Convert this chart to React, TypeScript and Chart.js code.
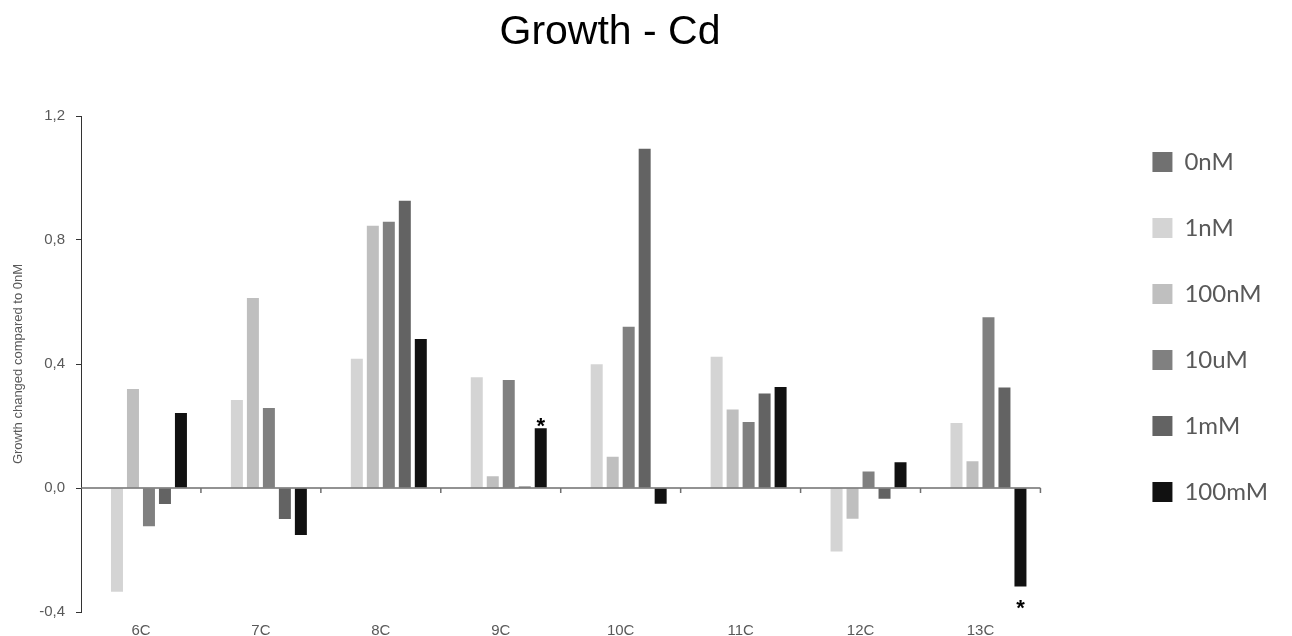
import React, { useEffect, useRef } from "react";
import { Chart, registerables } from "chart.js";

Chart.register(...registerables);

const categories = ["6C", "7C", "8C", "9C", "10C", "11C", "12C", "13C"];
const seriesLabels = ["0nM", "1nM", "100nM", "10uM", "1mM", "100mM"];
const values0nM = [0, 0, 0, 0, 0, 0, 0, 0];
const values1nM = [-0.335, 0.284, 0.417, 0.357, 0.399, 0.423, -0.205, 0.21];
const values100nM = [0.319, 0.613, 0.846, 0.038, 0.101, 0.253, -0.099, 0.086];
const values10uM = [-0.123, 0.258, 0.859, 0.348, 0.52, 0.213, 0.053, 0.551];
const values1mM = [-0.052, -0.1, 0.927, 0.005, 1.094, 0.305, -0.035, 0.324];
const values100mM = [0.242, -0.152, 0.481, 0.193, -0.051, 0.326, 0.083, -0.318];
const seriesColors = ["#717171", "#d4d4d4", "#bfbfbf", "#808080", "#636363", "#111111"];
const yTickValues = [-0.4, 0, 0.4, 0.8, 1.2];
const significant = [
  { category: "9C", series: "100mM" },
  { category: "13C", series: "100mM" },
];

const titlePlugin = {
  id: "customTitle",
  afterDraw(chart: any) {
    const ctx = chart.ctx;
    ctx.save();
    ctx.font = "41px 'Liberation Sans', Arial, sans-serif";
    ctx.fillStyle = "#000000";
    ctx.textAlign = "center";
    ctx.textBaseline = "alphabetic";
    ctx.fillText("Growth - Cd", chart.width / 2 - 36, 44);
    ctx.restore();
  },
};

const zeroLinePlugin = {
  id: "zeroLine",
  afterDatasetsDraw(chart: any) {
    const { ctx, chartArea, scales } = chart;
    const y0 = scales.y.getPixelForValue(0);
    ctx.save();
    ctx.strokeStyle = "#6f6f6f";
    ctx.lineWidth = 1.5;
    ctx.beginPath();
    ctx.moveTo(chartArea.left, y0);
    ctx.lineTo(chartArea.right, y0);
    const n = categories.length;
    for (let i = 1; i <= n; i++) {
      const x =
        i === n
          ? chartArea.right
          : (scales.x.getPixelForValue(i - 1) + scales.x.getPixelForValue(i)) / 2;
      ctx.moveTo(x, y0);
      ctx.lineTo(x, y0 + 5);
    }
    ctx.stroke();
    ctx.restore();
  },
};

const starPlugin = {
  id: "stars",
  afterDatasetsDraw(chart: any) {
    const ctx = chart.ctx;
    ctx.save();
    ctx.font = "bold 22px 'Liberation Sans', Arial, sans-serif";
    ctx.fillStyle = "#000000";
    ctx.textAlign = "center";
    ctx.textBaseline = "alphabetic";
    significant.forEach((s) => {
      const di = chart.data.datasets.findIndex((d: any) => d.label === s.series);
      const ci = categories.indexOf(s.category);
      const el = chart.getDatasetMeta(di).data[ci];
      const v = chart.data.datasets[di].data[ci];
      const y = v >= 0 ? el.y + 5 : el.y + 28;
      ctx.fillText("*", el.x, y);
    });
    ctx.restore();
  },
};

export default function App() {
  const canvasRef = useRef<HTMLCanvasElement>(null);

  useEffect(() => {
    if (!canvasRef.current) return;
    const allValues = [values0nM, values1nM, values100nM, values10uM, values1mM, values100mM];
    const tickFont = { size: 15, family: "'Liberation Sans', Arial, sans-serif" };
    const chart = new Chart(canvasRef.current, {
      type: "bar",
      data: {
        labels: categories,
        datasets: seriesLabels.map((label, i) => ({
          label,
          data: allValues[i],
          backgroundColor: seriesColors[i],
          borderWidth: 0,
          categoryPercentage: 0.8,
          barPercentage: 0.75,
        })),
      },
      options: {
        animation: false,
        responsive: true,
        maintainAspectRatio: false,
        layout: { padding: { top: 108, left: 0, right: 14, bottom: 0 } },
        plugins: {
          title: { display: false },
          subtitle: {
            display: true,
            text: " ",
            color: "rgba(0,0,0,0)",
            font: { size: 5, lineHeight: 1 },
            padding: { top: 0, bottom: 3 },
          },
          tooltip: { enabled: false },
          legend: {
            position: "right",
            align: "start",
            fullSize: true,
            labels: {
              boxWidth: 20,
              boxHeight: 20,
              padding: 42,
              color: "#595959",
              font: { size: 24, family: "Lato, 'Open Sans', sans-serif" },
            },
          },
        },
        scales: {
          x: {
            afterFit: (s: any) => {
              s.height = 24;
            },
            grid: { display: false },
            border: { display: false },
            ticks: {
              color: "#595959",
              padding: 2,
              font: tickFont,
            },
          },
          y: {
            min: -0.4,
            max: 1.2,
            afterFit: (s: any) => {
              s.width = 81;
            },
            afterBuildTicks: (s: any) => {
              s.ticks = yTickValues.map((v) => ({ value: v }));
            },
            grid: {
              drawOnChartArea: false,
              drawTicks: true,
              tickLength: 5,
              color: "#333333",
            },
            border: { display: true, color: "#333333" },
            ticks: {
              color: "#595959",
              padding: 11,
              font: tickFont,
              callback: (v: any) => (Math.round(Number(v) * 10) / 10).toFixed(1).replace(".", ","),
            },
            title: {
              display: true,
              text: "Growth changed compared to 0nM",
              color: "#595959",
              padding: { top: 11, bottom: 4 },
              font: { size: 13, family: "'Liberation Sans', Arial, sans-serif" },
            },
          },
          y2: {
            position: "right",
            display: true,
            min: 0,
            max: 1,
            grid: { display: false },
            border: { display: false },
            ticks: { display: false },
            afterFit: (s: any) => {
              s.width = 70;
            },
          },
        },
      },
      plugins: [titlePlugin, zeroLinePlugin, starPlugin],
    } as any);
    return () => chart.destroy();
  }, []);

  return (
    <div style={{ position: "fixed", left: 0, top: 0, width: 1292, height: 636, background: "#fff" }}>
      <canvas ref={canvasRef} />
    </div>
  );
}
